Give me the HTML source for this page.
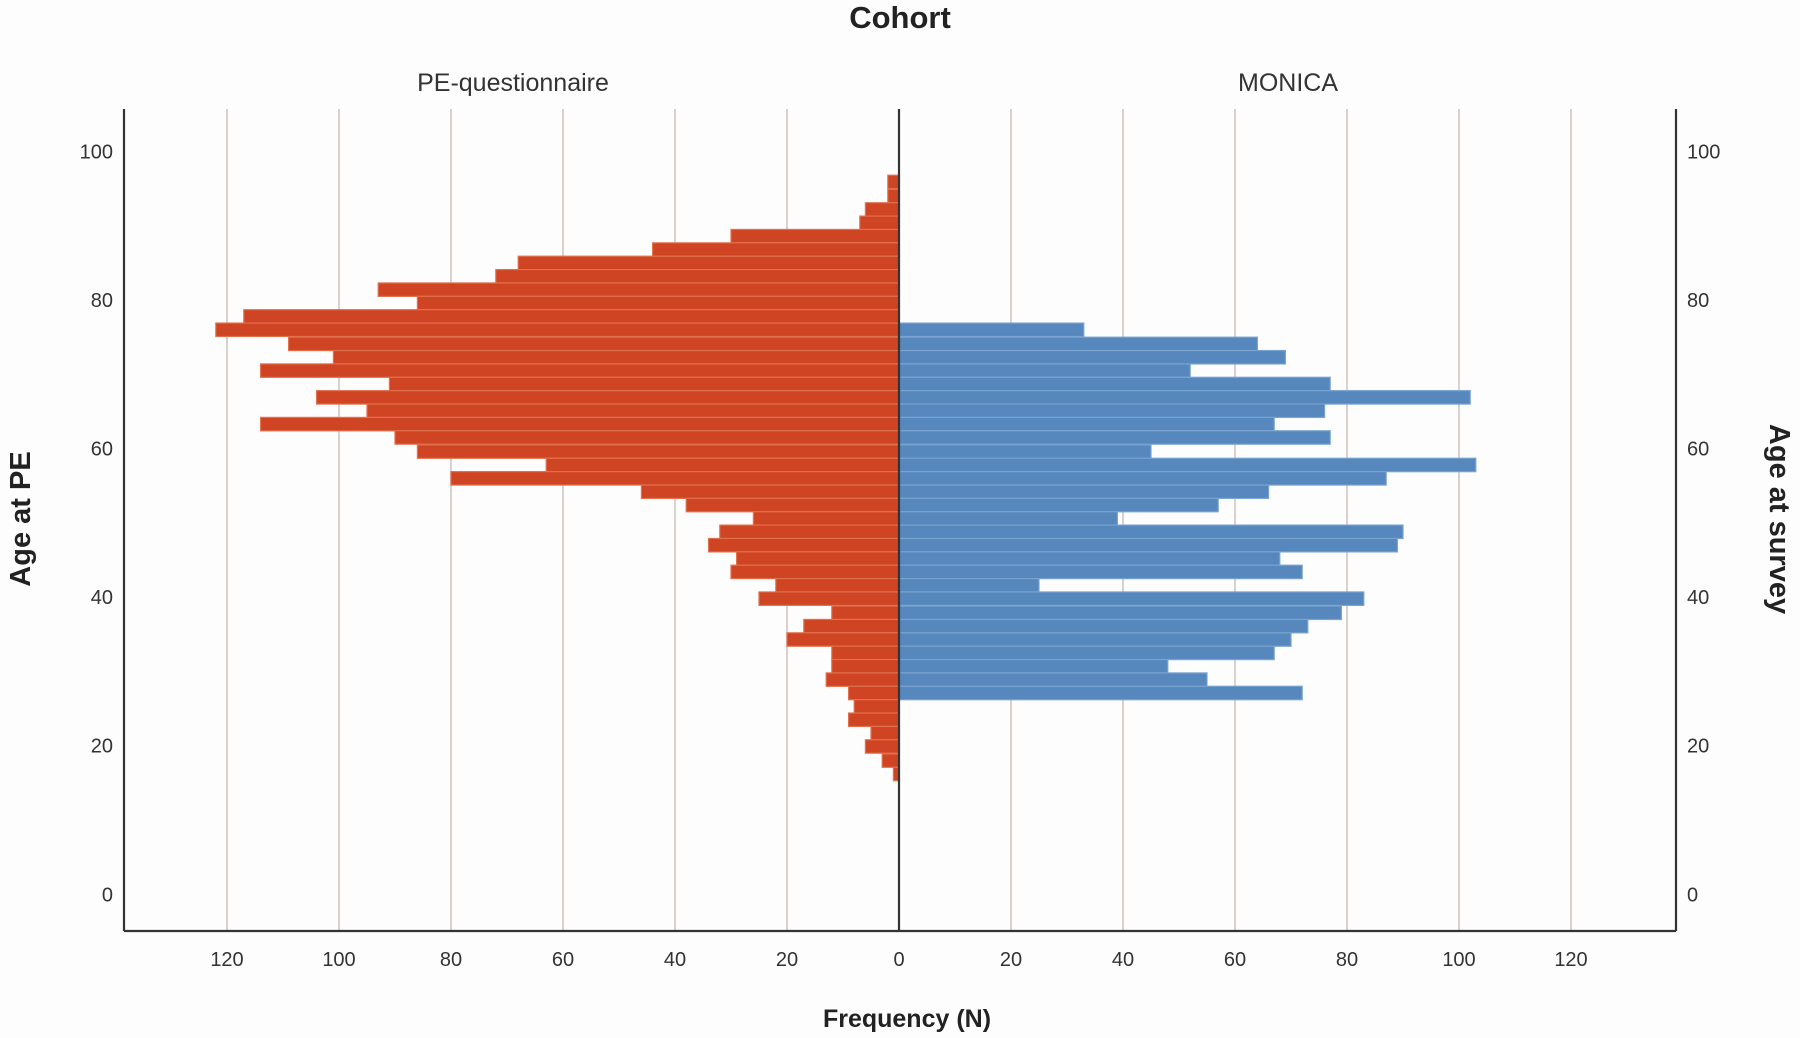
<!DOCTYPE html>
<html><head><meta charset="utf-8"><style>
html,body{margin:0;padding:0;background:#fff;}
svg{display:block;font-family:"Liberation Sans",Arial,sans-serif;}
</style></head><body>
<svg id="chart" width="1800" height="1038" viewBox="0 0 1800 1038" xmlns="http://www.w3.org/2000/svg">
<rect x="0" y="0" width="1800" height="1038" fill="#fdfdfd"/>
<text x="900" y="28" text-anchor="middle" font-size="31" font-weight="bold" fill="#222">Cohort</text>
<text x="513" y="91" text-anchor="middle" font-size="25" fill="#333">PE-questionnaire</text>
<text x="1288" y="91" text-anchor="middle" font-size="25" fill="#333">MONICA</text>
<text x="907" y="1027" text-anchor="middle" font-size="25" font-weight="bold" fill="#222">Frequency (N)</text>
<text transform="translate(30,519) rotate(-90)" text-anchor="middle" font-size="29" font-weight="bold" fill="#222">Age at PE</text>
<text transform="translate(1770,519) rotate(90)" text-anchor="middle" font-size="29" font-weight="bold" fill="#222">Age at survey</text>
<g id="grid"></g>
<g id="bars"></g>
<g id="axes"></g>
</svg>
<script>
const peAges = [95.9,94.0,92.2,90.4,88.6,86.8,85.0,83.2,81.4,79.6,77.8,76.0,74.1,72.3,70.5,68.7,66.9,65.1,63.3,61.5,59.6,57.8,56.0,54.2,52.4,50.6,48.8,47.0,45.2,43.4,41.6,39.8,37.9,36.1,34.3,32.5,30.7,28.9,27.1,25.3,23.5,21.7,19.9,18.0,16.2];
const peCounts = [2,2,6,7,30,44,68,72,93,86,117,122,109,101,114,91,104,95,114,90,86,63,80,46,38,26,32,34,29,30,22,25,12,17,20,12,12,13,9,8,9,5,6,3,1];
const monicaAges = [76.0,74.1,72.3,70.5,68.7,66.9,65.1,63.3,61.5,59.6,57.8,56.0,54.2,52.4,50.6,48.8,47.0,45.2,43.4,41.6,39.8,37.9,36.1,34.3,32.5,30.7,28.9,27.1];
const monicaCounts = [33,64,69,52,77,102,76,67,77,45,103,87,66,57,39,90,89,68,72,25,83,79,73,70,67,48,55,72];
const xTicks = [0,20,40,60,80,100,120];
const yTicks = [0,20,40,60,80,100];
const binWidth = 1.81;

const NS = "http://www.w3.org/2000/svg";
const cx = 899, unit = 5.6;
const y0 = 894.3, yPer = 7.428;
const plotTop = 109, plotBottom = 931, leftAx = 124, rightAx = 1676;
function xs(v, side){ return side < 0 ? cx - v*unit : cx + v*unit; }
function ys(a){ return y0 - a*yPer; }
function mk(tag, attrs, parent){ const e = document.createElementNS(NS, tag); for (const k in attrs) e.setAttribute(k, attrs[k]); parent.appendChild(e); return e; }
const gridG = document.getElementById('grid'), barsG = document.getElementById('bars'), axesG = document.getElementById('axes');

xTicks.forEach(t => {
  [-1,1].forEach(s => {
    if (t === 0) return;
    const l = mk('line', {x1:xs(t,s), x2:xs(t,s), y1:plotTop, y2:plotBottom, stroke:'#d9d1ce', 'stroke-width':2}, gridG);
    
    
  });
});

function drawBars(ages, counts, side, fill, stroke, prefix){
  ages.forEach((a, i) => {
    const yT = ys(a + binWidth/2), yB = ys(a - binWidth/2);
    const w = counts[i]*unit;
    const r = mk('rect', {x: side<0 ? cx - w : cx, y: yT, width: w, height: yB - yT, fill: fill, stroke: stroke, 'stroke-width': 1.2}, barsG);
    
    
  });
}
drawBars(peAges, peCounts, -1, '#cf4423', '#e0714f', 'pe');
drawBars(monicaAges, monicaCounts, 1, '#5688bd', '#7aa3cf', 'monica');

const frame = [
  {x1:leftAx,y1:plotTop,x2:leftAx,y2:plotBottom,n:'left-axis-line'},
  {x1:rightAx,y1:plotTop,x2:rightAx,y2:plotBottom,n:'right-axis-line'},
  {x1:leftAx,y1:plotBottom,x2:rightAx,y2:plotBottom,n:'x-axis-line'},
  {x1:cx,y1:plotTop,x2:cx,y2:plotBottom,n:'center-line'}
];
frame.forEach(f => {
  const l = mk('line', {x1:f.x1,y1:f.y1,x2:f.x2,y2:f.y2,stroke:'#333','stroke-width':2.2}, axesG);
  
  
});

xTicks.forEach(t => {
  (t === 0 ? [1] : [-1,1]).forEach(s => {
    const tx = mk('text', {x: xs(t,s), y: 966, 'text-anchor':'middle', 'font-size':20, fill:'#333'}, axesG);
    tx.textContent = t;
    
    
  });
});
yTicks.forEach(t => {
  const a = mk('text', {x: 113, y: ys(t)+7, 'text-anchor':'end', 'font-size':20, fill:'#333'}, axesG);
  a.textContent = t;
  
  
  const b = mk('text', {x: 1687, y: ys(t)+7, 'text-anchor':'start', 'font-size':20, fill:'#333'}, axesG);
  b.textContent = t;
  
  
});
</script>
</body></html>
